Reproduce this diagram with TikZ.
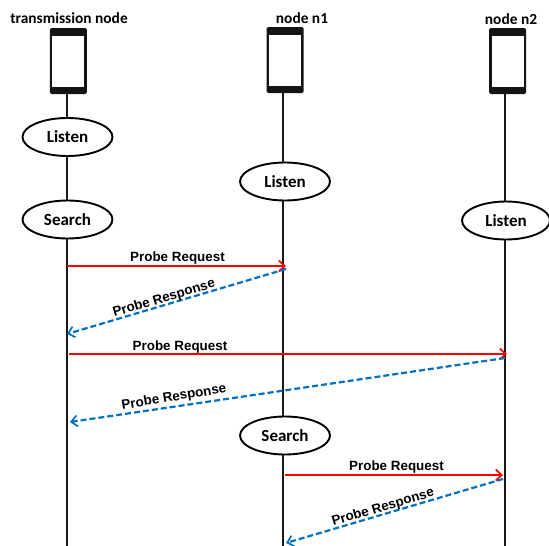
\documentclass[tikz,border=0pt]{standalone}
\usepackage{fontspec}
\setmainfont{Carlito}
\newfontfamily\arialfont{Liberation Sans}
\usetikzlibrary{shapes.geometric,arrows.meta}
\definecolor{blueline}{RGB}{0,112,192}
\newcommand{\lowered}[1]{\raisebox{-1pt}{#1}}
\tikzset{
  x=1pt,y=-1pt,
  life/.style={draw=black!90,line width=2pt},
  state/.style={draw=black,line width=1.9pt,fill=white,ellipse,minimum width=90pt,minimum height=38pt,inner sep=0pt,font=\fontsize{17}{17}\selectfont\bfseries},
  head/.style={font=\fontsize{15.4}{16}\selectfont\bfseries,inner sep=0pt},
  phone/.style={fill=black!92,rounded corners=1.5pt,minimum width=37pt,minimum height=66pt,inner sep=0pt},
  screen/.style={fill=white,minimum width=32pt,minimum height=51.5pt,inner sep=0pt},
  req/.style={draw=red,line width=2.3pt,-{Straight Barb[length=6pt,width=11pt,line width=1.7pt]}},
  resp/.style={draw=blueline,line width=2.2pt,dash pattern=on 6pt off 3pt,-{Straight Barb[length=6pt,width=11pt,line width=1.7pt]}},
  msg/.style={font=\arialfont\fontsize{13.4}{13.4}\selectfont\bfseries,inner sep=0pt},
}
\begin{document}
\begin{tikzpicture}
\useasboundingbox (0,0) rectangle (549,546);
% headings
\node[head] (h0) at (69,18.5) {transmission node};
\node[head] (h1) at (302,18.5) {node n1};
\node[head] (h2) at (511,19.5) {node n2};
% phones
\node[phone] (p0) at (68.3,61) {};
\node[screen] (s0) at (68.3,61.5) {};
\node[phone] (p1) at (285,60) {};
\node[screen] (s1) at (285,60.5) {};
\node[phone] (p2) at (507.5,61) {};
\node[screen] (s2) at (507.5,61.5) {};
% lifeline ends
\coordinate (e0) at (66.5,546);
\coordinate (e1) at (283,546);
\coordinate (e2) at (505,546);
% states
\node[state] (l0) at (67.5,137) {\lowered{Listen}};
\node[state] (r0) at (67.5,219.5) {\lowered{Search}};
\node[state] (l1) at (285,181.5) {\lowered{Listen}};
\node[state] (r1) at (285,435.5) {\lowered{Search}};
\node[state,minimum width=88pt] (l2) at (506,220.5) {\lowered{Listen}};
% lifelines
\draw[life] (p0.south -| e0) -- (l0.north -| e0);
\draw[life] (l0.south -| e0) -- (r0.north -| e0);
\draw[life] (r0.south -| e0) -- (e0);
\draw[life] (p1.south -| e1) -- (l1.north -| e1);
\draw[life] (l1.south -| e1) -- (r1.north -| e1);
\draw[life] (r1.south -| e1) -- (e1);
\draw[life] (p2.south -| e2) -- (l2.north -| e2);
\draw[life] (l2.south -| e2) -- (e2);
% message anchors
\coordinate (a1) at (67,266); \coordinate (a2) at (286,266);
\coordinate (b1) at (286,269); \coordinate (b2) at (67,334);
\coordinate (c1) at (69,354); \coordinate (c2) at (507,354);
\coordinate (d1) at (505,358); \coordinate (d2) at (70,422);
\coordinate (f1) at (285,475); \coordinate (f2) at (503,475);
\coordinate (g1) at (503,479); \coordinate (g2) at (286,543);
% messages
\draw[req] (a1) -- (a2);
\draw[resp] (b1) -- (b2);
\draw[req] (c1) -- (c2);
\draw[resp] (d1) -- (d2);
\draw[req] (f1) -- (f2);
\draw[resp] (g1) -- (g2);
% labels
\node[msg] (m1) at (177.5,258.5) {Probe Request};
\node[msg,rotate=16.5] (m2) at (164,298.5) {Probe Response};
\node[msg] (m3) at (180,347.5) {Probe Request};
\node[msg,rotate=9.5] (m4) at (174,397.5) {Probe Response};
\node[msg] (m5) at (396.5,467.5) {Probe Request};
\node[msg,rotate=16.5] (m6) at (383,507.5) {Probe Response};
\end{tikzpicture}
\end{document}
